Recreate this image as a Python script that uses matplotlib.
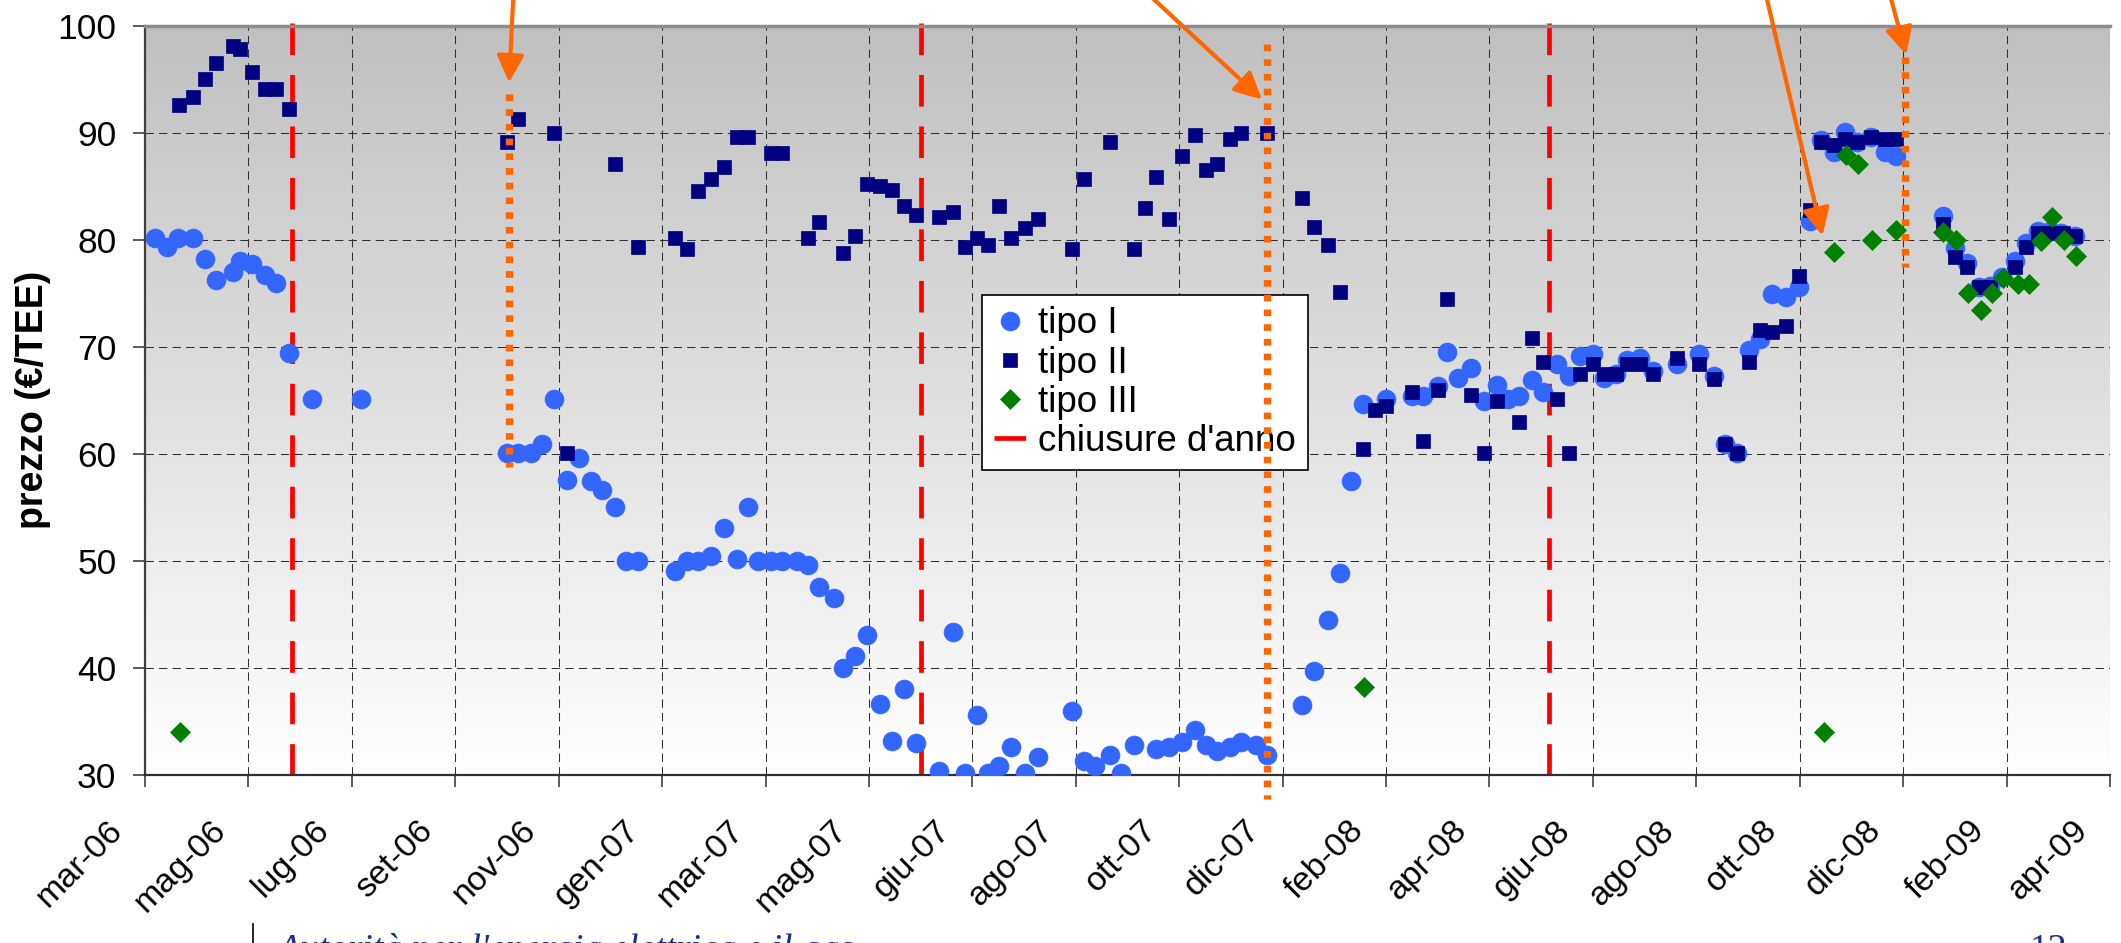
import numpy as np
import matplotlib
matplotlib.use("Agg")
import matplotlib.pyplot as plt
from matplotlib.colors import LinearSegmentedColormap
from matplotlib.transforms import ScaledTranslation
from matplotlib.lines import Line2D

plt.rcParams['font.family'] = ['Liberation Sans', 'DejaVu Sans']

# etichette asse x (una ogni intervallo dell'asse)
mesi = ["mar-06", "mag-06", "lug-06", "set-06", "nov-06", "gen-07", "mar-07", "mag-07",
        "giu-07", "ago-07", "ott-07", "dic-07", "feb-08", "apr-08", "giu-08", "ago-08",
        "ott-08", "dic-08", "feb-09", "apr-09"]

# sessioni: posizione sull'asse (in intervalli di etichetta) e prezzo in euro/TEE
x_tipo1 = [0.10, 0.21, 0.32, 0.46, 0.58, 0.69, 0.85, 0.92, 1.03, 1.16, 1.27, 1.39, 1.61, 2.09,
           3.50, 3.61, 3.73, 3.84, 3.95, 4.08, 4.20, 4.31, 4.42, 4.54, 4.65, 4.77,
           5.12, 5.24, 5.35, 5.47, 5.60, 5.72, 5.83, 5.93, 6.05, 6.16, 6.30, 6.41, 6.52, 6.66,
           6.75, 6.86, 6.98, 7.11, 7.22, 7.34, 7.45, 7.68, 7.81, 7.93, 8.04, 8.15, 8.26, 8.37,
           8.51, 8.63, 8.96, 9.08, 9.19, 9.33, 9.44, 9.56, 9.78, 9.90, 10.03, 10.15, 10.26,
           10.37, 10.49, 10.60, 10.74, 10.85, 11.19, 11.30, 11.44, 11.55, 11.66, 11.78, 12.00,
           12.25, 12.36, 12.50, 12.59, 12.70, 12.82, 12.95, 13.07, 13.18, 13.29, 13.41, 13.52,
           13.65, 13.77, 13.88, 14.00, 14.11, 14.22, 14.33, 14.46, 14.58, 14.81, 15.03, 15.17,
           15.28, 15.39, 15.51, 15.62, 15.73, 15.87, 15.99, 16.10, 16.21, 16.33, 16.44, 16.55,
           16.69, 16.82, 16.93, 17.39, 17.50, 17.62, 17.73, 17.84, 17.96, 18.08, 18.19, 18.30,
           18.42, 18.53, 18.66]
y_tipo1 = [80.2, 79.3, 80.2, 80.2, 78.2, 76.2, 77.0, 78.0, 77.7, 76.7, 76.0, 69.4, 65.1, 65.1,
           60.1, 60.1, 60.1, 60.9, 65.1, 57.6, 59.6, 57.5, 56.6, 55.0, 50.0, 50.0,
           49.1, 50.0, 50.0, 50.5, 53.1, 50.2, 55.0, 50.0, 50.0, 50.0, 50.0, 49.6, 47.6, 46.5,
           40.0, 41.1, 43.1, 36.6, 33.2, 38.0, 33.0, 30.4, 43.4, 30.2, 35.6, 30.2, 30.8, 32.6,
           30.2, 31.7, 36.0, 31.3, 30.8, 31.9, 30.2, 32.8, 32.4, 32.6, 33.1, 34.2, 32.8,
           32.2, 32.6, 33.1, 32.8, 31.9, 36.5, 39.7, 44.5, 48.9, 57.5, 64.7, 65.1,
           65.4, 65.4, 66.3, 69.5, 67.1, 68.0, 64.9, 66.4, 65.1, 65.4, 66.9, 65.8,
           68.4, 67.3, 69.1, 69.3, 67.1, 67.5, 68.8, 69.0, 67.7, 68.4, 69.3, 67.3,
           60.9, 60.1, 69.7, 70.7, 74.9, 74.7, 75.6, 81.8, 89.3, 88.2, 90.1, 89.1,
           89.6, 88.2, 87.8, 82.2, 79.2, 77.8, 75.6, 75.7, 76.5, 78.0, 79.7, 80.8,
           80.8, 80.6, 80.4]

x_tipo2 = [0.33, 0.46, 0.58, 0.69, 0.85, 0.92, 1.03, 1.16, 1.27, 1.39, 3.50, 3.61, 3.95, 4.08,
           4.54, 4.77, 5.12, 5.24, 5.35, 5.47, 5.60, 5.72, 5.83, 6.05, 6.16, 6.41, 6.52, 6.75,
           6.86, 6.98, 7.11, 7.22, 7.34, 7.45, 7.68, 7.81, 7.93, 8.04, 8.15, 8.26, 8.37, 8.51,
           8.63, 8.96, 9.08, 9.33, 9.56, 9.67, 9.78, 9.90, 10.03, 10.15, 10.26, 10.37, 10.49,
           10.60, 10.85, 11.19, 11.30, 11.44, 11.55, 11.78, 11.89, 12.00, 12.25, 12.36, 12.50,
           12.59, 12.82, 12.95, 13.07, 13.29, 13.41, 13.52, 13.65, 13.77, 13.88, 14.00, 14.11,
           14.22, 14.33, 14.46, 14.58, 14.81, 15.03, 15.17, 15.28, 15.39, 15.51, 15.62, 15.73,
           15.87, 15.99, 16.10, 16.21, 16.33, 16.44, 16.55, 16.69, 16.82, 16.93, 17.39, 17.50,
           17.62, 17.73, 17.84, 18.08, 18.19, 18.30, 18.42, 18.55, 18.66]
y_tipo2 = [92.6, 93.3, 95.0, 96.5, 98.1, 97.8, 95.7, 94.1, 94.1, 92.2, 89.1, 91.3, 90.0, 60.1,
           87.1, 79.3, 80.2, 79.1, 84.6, 85.7, 86.8, 89.6, 89.6, 88.1, 88.1, 80.2, 81.7, 78.8,
           80.4, 85.2, 85.0, 84.7, 83.2, 82.3, 82.1, 82.6, 79.3, 80.2, 79.5, 83.2, 80.2, 81.1,
           81.9, 79.1, 85.7, 89.1, 79.1, 83.0, 85.9, 81.9, 87.8, 89.8, 86.5, 87.1, 89.4,
           90.0, 90.0, 83.9, 81.2, 79.5, 75.1, 60.5, 64.1, 64.5, 65.8, 61.2, 66.0,
           74.5, 65.5, 60.1, 64.9, 63.0, 70.8, 68.6, 65.1, 60.1, 67.5, 68.4, 67.5,
           67.5, 68.4, 68.4, 67.5, 69.0, 68.4, 67.0, 60.9, 60.1, 68.6, 71.6, 71.4,
           71.9, 76.6, 82.8, 89.1, 88.9, 89.4, 89.1, 89.6, 89.4, 89.4, 81.5, 78.4,
           77.5, 75.6, 75.6, 77.5, 79.3, 80.6, 80.6, 80.6, 80.4]

x_tipo3 = [0.34, 11.79, 16.23, 16.33, 16.45, 16.56, 16.70, 16.93, 17.39, 17.51, 17.63, 17.75,
           17.86, 17.97, 18.11, 18.22, 18.33, 18.44, 18.56, 18.67]
y_tipo3 = [34.0, 38.2, 34.0, 78.9, 87.9, 87.1, 80.0, 80.9, 80.7, 80.0, 75.0, 73.4,
           75.0, 76.4, 75.9, 75.9, 79.9, 82.1, 80.0, 78.5]

# chiusure d'anno (linee rosse)
chiusure = [1.42, 7.50, 13.58]

# linee arancio: posizione, estremo alto, estremo basso
x_arancio = [3.52, 10.85, 17.02]
alto_arancio = [93.6, 98.3, 97.1]
basso_arancio = [58.8, 27.8, 77.5]

# frecce arancio (partenza fuori dal grafico, punta)
frecce_da = [(3.56, 102.6), (9.74, 102.6), (15.68, 102.6), (16.88, 102.6)]
frecce_a = [(3.52, 94.7), (10.80, 93.1), (16.22, 80.4), (17.03, 97.3)]

fig = plt.figure(figsize=(21.21, 9.43), dpi=100)
ax = fig.add_axes([0.0684, 0.1782, 0.9264, 0.7945])

# sfondo sfumato grigio -> bianco
grad = np.linspace(0, 1, 256).reshape(-1, 1)
cm = LinearSegmentedColormap.from_list("sfondo", ["#C0C0C0", "#FFFFFF"])
ax.imshow(grad, cmap=cm, extent=[0, 19, 30, 100], aspect='auto', zorder=-5)

ax.set_xlim(0, 19)
ax.set_ylim(30, 100)
ax.set_axisbelow(True)
ax.grid(True, linestyle=(0, (8, 5)), linewidth=0.75, color='#303030')

# chiusure d'anno
for i, xc in enumerate(chiusure):
    ax.plot([xc, xc], [100.3, 30], color='#FF0000', lw=3.4, linestyle=(0, (6.7, 4.2)),
            clip_on=False, zorder=2, label="chiusure d'anno" if i == 0 else None)

p1, = ax.plot(x_tipo1, y_tipo1, linestyle='none', marker='o', markersize=13.6,
              color='#3366FF', markeredgewidth=0.5, zorder=3, label='tipo I')
p2, = ax.plot(x_tipo2, y_tipo2, linestyle='none', marker='s', markersize=10,
              color='#000080', markeredgewidth=0.5, zorder=4, label='tipo II')
p3, = ax.plot(x_tipo3, y_tipo3, linestyle='none', marker='D', markersize=10.5,
              color='#008000', markeredgewidth=0.5, zorder=5, label='tipo III')

for xo, ya, yb in zip(x_arancio, alto_arancio, basso_arancio):
    ax.plot([xo, xo], [ya, yb], color='#FF6600', lw=5.3, linestyle=(0, (0.9, 1.1)),
            clip_on=False, zorder=8)

for da, a in zip(frecce_da, frecce_a):
    ax.annotate('', xy=a, xytext=da,
                arrowprops=dict(arrowstyle='-|>', color='#FF6600', lw=3, mutation_scale=41,
                                shrinkA=0, shrinkB=0),
                annotation_clip=False, zorder=9)

handles, labels = ax.get_legend_handles_labels()
ordine = [labels.index(l) for l in ['tipo I', 'tipo II', 'tipo III', "chiusure d'anno"]]
leg = ax.legend([handles[i] for i in ordine], [labels[i] for i in ordine],
                loc='upper left', bbox_to_anchor=(0.426, 0.641), borderaxespad=0,
                fontsize=26.5, frameon=True, fancybox=False, framealpha=1,
                edgecolor='black', handlelength=0.9, handletextpad=0.3,
                borderpad=0.32, labelspacing=0.11)
leg.get_frame().set_linewidth(1.2)
leg.set_zorder(6)

# assi
ax.set_yticks(range(30, 101, 10))
ax.set_xticks(range(len(mesi)))
ax.set_xticklabels(mesi)
ax.tick_params(axis='y', length=8.6, width=1.2, pad=12, labelsize=25.5, color='#404040')
ax.tick_params(axis='x', length=8.6, width=1.2, pad=20, labelsize=24.5, color='#404040')
plt.setp(ax.get_xticklabels(), rotation=45, ha='right', va='top', rotation_mode='anchor')
sposta = ScaledTranslation(-0.38, 0, fig.dpi_scale_trans)
for lab in ax.get_xticklabels():
    lab.set_transform(lab.get_transform() + sposta)

ax.set_ylabel("prezzo (€/TEE)", fontsize=27, fontweight='bold')
ax.yaxis.set_label_coords(-0.048, 0.5)

ax.spines['right'].set_visible(False)
ax.spines['top'].set_color('#8c8c8c')
ax.spines['top'].set_linewidth(2.5)
ax.spines['left'].set_color('#404040')
ax.spines['left'].set_linewidth(1.6)
ax.spines['bottom'].set_color('#303030')
ax.spines['bottom'].set_linewidth(1.6)

# piè di pagina della slide (tagliato in basso come nell'originale)
fig.text(277 / 2121, 1 - 933 / 943, "Autorità per l'energia elettrica e il gas",
         family='Liberation Serif', style='italic', fontsize=27, color='#1c2e8c',
         ha='left', va='top')
fig.text(2030 / 2121, 1 - 933 / 943, "12", family='Liberation Serif', fontsize=27,
         color='#1c2e8c', ha='left', va='top')
fig.add_artist(Line2D([253 / 2121, 253 / 2121], [0, 1 - 924 / 943], color='black', lw=1.2))

fig.savefig('out.png', dpi=100)
